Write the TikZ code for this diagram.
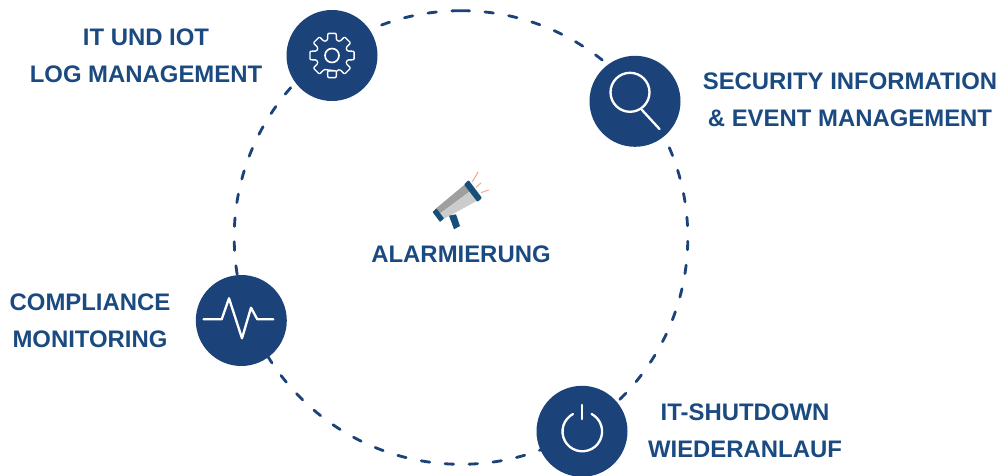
\documentclass[tikz,border=0pt]{standalone}
\usepackage{fontspec}
\setmainfont{Liberation Sans}
\usepackage{xcolor}
\definecolor{ringblue}{HTML}{1B4279}
\definecolor{labelblue}{HTML}{1A4A80}
\definecolor{hornteal}{HTML}{14507A}
\definecolor{raysalmon}{HTML}{F2A999}
\tikzset{
  iconbase/.style={draw=none, circle, inner sep=0pt, minimum size=2.73cm, fill=ringblue},
  iconline/.style={draw=white, line width=0.07cm, line cap=round, line join=round},
  labeltext/.style={text=labelblue, inner sep=0pt, font=\fontsize{20.4}{31.5}\selectfont\bfseries},
  raystroke/.style={draw=raysalmon, line width=0.03cm}
}

\begin{document}
\begin{tikzpicture}[x=0.03cm, y=-0.03cm]
\useasboundingbox (0,0) rectangle (1002,476);

\coordinate (ringtop) at (461,10.7);
\draw[ringblue, line width=0.085cm, dash pattern=on 0.255cm off 0.465cm, line cap=round] (ringtop) arc[start angle=-90, end angle=270, radius=226.8];

\node[iconbase] (gear) at (332,55.5) {};
\node[iconbase] (lens) at (635,101.3) {};
\node[iconbase] (pulse) at (241.3,320.5) {};
\node[iconbase] (power) at (582,431.3) {};

% gear
\begin{scope}[shift={(332,55.5)}]
\draw[iconline, line width=0.04cm, rounded corners=0.03cm] (90-16:16) \foreach \a in {90,45,...,-225} { -- (\a+16:16) -- (\a+11:22.5) -- (\a-11:22.5) -- (\a-16:16) } -- cycle;
\draw[iconline, line width=0.05cm] (0,0) circle (7);
\end{scope}

% magnifier
\draw[iconline] (630,92.3) circle (19.5);
\draw[iconline] (642,110) -- (659.5,129);

% pulse
\draw[iconline] (203.5,319.3) -- (221.7,319.3) -- (229,298.3) -- (242,338.3) -- (251,307.7) -- (257.3,319.3) -- (273.3,319.3);

% power
\draw[iconline] (573,414) arc[start angle=242, end angle=-62, radius=19.8];
\draw[iconline] (582,405) -- (582,419);

% megaphone
\fill[gray!75] (439.3,214) -- (435,209.3) -- (465,184.3) -- (471,190.7) -- cycle;
\fill[gray!40] (439.3,214) -- (441.7,220) -- (477.3,200.7) -- (471,190.7) -- cycle;
\fill[hornteal, rounded corners=0.02cm] (432.5,212) -- (436.5,208.5) -- (444,218.5) -- (440,222) -- cycle;
\fill[hornteal, rounded corners=0.03cm] (464,184.5) -- (468.5,180) -- (482,198) -- (477.5,202) -- cycle;
\fill[hornteal] (449,215.7) -- (456,214.3) -- (460,226) -- (454,229.3) -- cycle;
\draw[raystroke] (472.3,181.7) -- (478.3,171.7);
\draw[raystroke] (476,187.3) -- (481,183);
\draw[raystroke] (481,192.7) -- (488.7,190);

% labels
\node[labeltext, align=center] (gearlabel) at (146,55.5) {IT UND IOT\\LOG MANAGEMENT};
\node[labeltext, align=center] (lenslabel) at (850,100) {SECURITY INFORMATION\\\& EVENT MANAGEMENT};
\node[labeltext, align=center] (hornlabel) at (461,254.5) {ALARMIERUNG};
\node[labeltext, align=center] (pulselabel) at (90,320.5) {COMPLIANCE\\MONITORING};
\node[labeltext, align=center] (powerlabel) at (745,431) {IT-SHUTDOWN\\WIEDERANLAUF};

\end{tikzpicture}
\end{document}
